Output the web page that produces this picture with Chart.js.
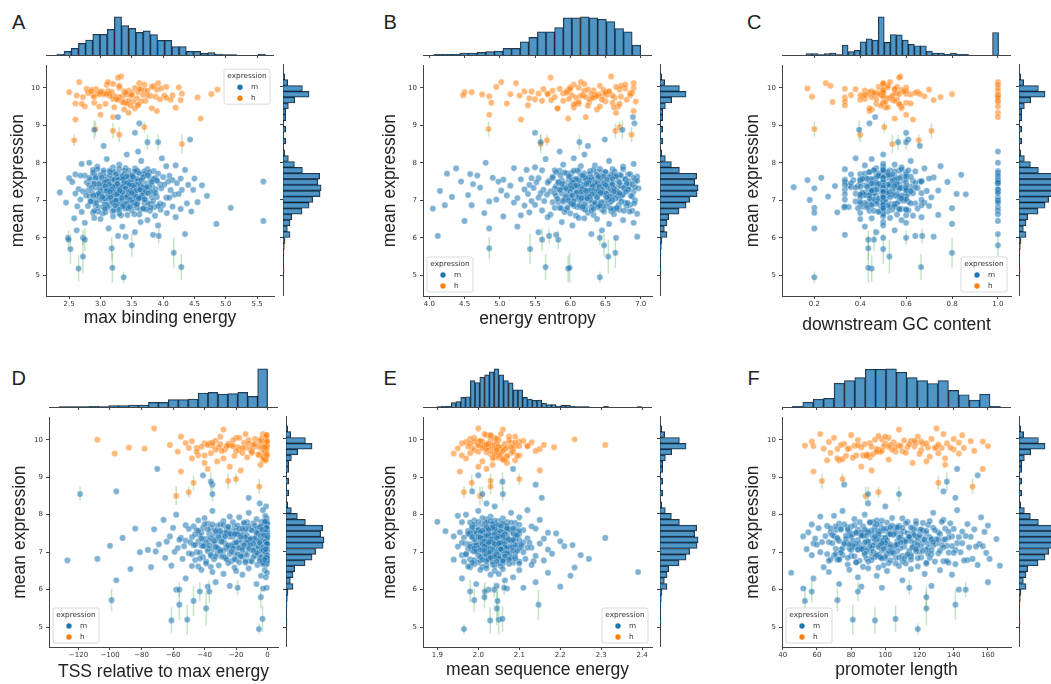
<!DOCTYPE html>
<html>
<head>
<meta charset="utf-8">
<title>mean expression vs promoter features</title>
<script src="https://cdn.jsdelivr.net/npm/chart.js@4.4.1/dist/chart.umd.min.js"></script>
<style>
  html, body { margin: 0; padding: 0; background: #fff; overflow: hidden; }
  body { width: 1051px; height: 684px; position: relative; }
  canvas { position: absolute; }
  .panel-letter { position: absolute; font-family: "Liberation Sans", Arial, sans-serif; font-size: 20px; line-height: 20px; color: #222; }
</style>
</head>
<body>
<script>
// Mean expression of the promoters (shared y values of every panel)
const hiExpr = [10.3, 10.27, 10.15, 10.12, 10.08, 10.05,
  9.88, 9.9, 9.92, 9.95, 9.97, 10.0, 10.02, 9.89, 9.93, 9.96, 9.99, 10.01, 9.9, 9.94, 9.98, 9.91, 9.95, 9.88,
  9.73, 9.75, 9.78, 9.8, 9.82, 9.84, 9.86, 9.74, 9.77, 9.79, 9.81, 9.83, 9.85, 9.76, 9.8, 9.82, 9.84, 9.78, 9.8, 9.86, 9.72, 9.75, 9.79, 9.83, 9.81,
  9.58, 9.62, 9.65, 9.68, 9.7, 9.6, 9.64, 9.67, 9.57, 9.63, 9.69,
  9.42, 9.45, 9.5, 9.53, 9.47,
  9.28, 9.33, 9.38,
  9.15, 9.18, 9.22];
const hiCoreExpr = [10.1, 9.65, 9.85, 9.55, 10.05, 9.75, 9.92, 9.6, 10.15, 9.8, 9.5, 9.95, 9.7, 10.02, 9.58,
  9.88, 9.45, 9.78, 10.08, 9.62, 9.9, 9.52, 9.83, 10.12, 9.68, 9.97, 9.48, 9.73, 9.87, 9.57];
const loExpr = [8.22,
  8.1, 8.05, 8.0, 8.12,
  7.95, 7.9, 7.85, 7.93, 7.88, 7.83, 7.97, 7.86, 7.91,
  7.8, 7.75, 7.7, 7.78, 7.72, 7.68, 7.81, 7.74, 7.77, 7.69, 7.79, 7.71, 7.76, 7.73, 7.8,
  7.65, 7.6, 7.55, 7.52, 7.63, 7.58, 7.53, 7.66, 7.61, 7.56, 7.54, 7.64, 7.59, 7.57, 7.62, 7.52, 7.55, 7.6, 7.65, 7.58, 7.53, 7.63, 7.56, 7.61, 7.54, 7.59, 7.66, 7.57,
  7.5, 7.45, 7.4, 7.38, 7.48, 7.43, 7.37, 7.46, 7.41, 7.49, 7.44, 7.39, 7.47, 7.42, 7.36, 7.5, 7.45, 7.4, 7.48, 7.43, 7.38, 7.46, 7.41, 7.44, 7.39, 7.47, 7.42,
  7.35, 7.3, 7.25, 7.22, 7.33, 7.28, 7.23, 7.34, 7.29, 7.24, 7.21, 7.32, 7.27, 7.26, 7.31, 7.35, 7.3, 7.25, 7.22, 7.33, 7.28, 7.23, 7.34, 7.29, 7.24, 7.21, 7.32, 7.27, 7.26,
  7.19, 7.15, 7.1, 7.06, 7.17, 7.12, 7.08, 7.18, 7.13, 7.09, 7.16, 7.11, 7.07, 7.14, 7.2, 7.19, 7.15, 7.1, 7.06, 7.17, 7.12, 7.08, 7.18, 7.13, 7.09, 7.16, 7.11, 7.07, 7.14,
  7.04, 7.0, 6.95, 6.9, 7.02, 6.97, 6.92, 7.03, 6.98, 6.93, 7.01, 6.96, 6.91, 6.99, 6.94, 7.04, 7.0, 6.95, 6.9, 7.02, 6.97, 6.92, 6.98,
  6.88, 6.85, 6.8, 6.75, 6.87, 6.82, 6.77, 6.86, 6.81, 6.76, 6.84, 6.79, 6.88, 6.83, 6.78, 6.85, 6.8, 6.75, 6.87, 6.82,
  6.73, 6.7, 6.65, 6.6, 6.72, 6.67, 6.62, 6.71, 6.66, 6.61, 6.69, 6.64, 6.59, 6.68, 6.63,
  6.57, 6.52, 6.47, 6.55, 6.5, 6.45, 6.53,
  6.42, 6.37, 6.3, 6.4, 6.33,
  6.25, 6.2, 6.15,
  6.1, 6.05, 6.0, 6.08, 6.03];
// the dense middle of the main cluster
const coreExpr = [7.84, 7.8, 7.77, 7.74, 7.71, 7.83, 7.79, 7.76, 7.72, 7.7, 7.81, 7.75, 7.69, 7.66, 7.63, 7.6, 7.57, 7.54, 7.51, 7.68,
  7.65, 7.62, 7.59, 7.56, 7.53, 7.5, 7.67, 7.64, 7.61, 7.58, 7.55, 7.52, 7.66, 7.63, 7.6, 7.57, 7.54, 7.51, 7.48, 7.45,
  7.42, 7.39, 7.36, 7.33, 7.3, 7.47, 7.44, 7.41, 7.38, 7.35, 7.32, 7.49, 7.46, 7.43, 7.4, 7.37, 7.34, 7.31, 7.48, 7.45,
  7.42, 7.39, 7.36, 7.33, 7.3, 7.44, 7.41, 7.38, 7.35, 7.32, 7.28, 7.25, 7.22, 7.19, 7.16, 7.13, 7.1, 7.29, 7.26, 7.23,
  7.2, 7.17, 7.14, 7.11, 7.27, 7.24, 7.21, 7.18, 7.15, 7.12, 7.28, 7.25, 7.22, 7.19, 7.16, 7.13, 7.1, 7.26, 7.23, 7.2,
  7.08, 7.05, 7.02, 6.99, 6.96, 6.93, 6.9, 7.07, 7.04, 7.01, 6.98, 6.95, 6.92, 7.09, 7.06, 7.03, 7.0, 6.97, 6.94, 6.91,
  7.08, 7.05, 6.88, 6.85, 6.82, 6.79, 6.76, 6.73, 6.7, 6.87, 6.84, 6.81, 6.78, 6.75, 6.72, 6.89, 6.86, 6.83, 6.8, 6.77];
const midExpr = [9.22, 9.05, 8.8, 8.62, 8.45, 8.3];
// promoters with replicate spread (error bars)
const noisyExpr = [4.95, 5.18, 5.2, 5.22, 5.5, 5.6, 5.7, 5.72, 5.95, 6.0, 5.8, 6.05, 8.5, 8.55, 8.55, 8.6, 8.85, 8.9, 8.88, 8.95, 8.75, 5.95];
const noisySd = [0.15, 0.35, 0.4, 0.35, 0.45, 0.4, 0.4, 0.3, 0.25, 0.2, 0.3, 0.2, 0.25, 0.2, 0.2, 0.15, 0.2, 0.2, 0.25, 0.15, 0.2, 0.3];
const noisyGroup = ['m', 'm', 'm', 'm', 'm', 'm', 'm', 'm', 'm', 'm', 'm', 'm', 'h', 'm', 'm', 'h', 'h', 'h', 'm', 'h', 'h', 'm'];

// Expression histogram (right margins), bins from low to high
const exprStart = 4.915;
const exprWidth = 0.155;
const exprCounts = [1, 3, 1, 2, 3, 4, 6, 21, 13, 21, 26, 57, 78, 89, 111, 114, 104, 110, 58, 34, 16, 5, 0, 8, 2, 8, 2, 8, 8, 16, 35, 78, 58, 14, 5];
const exprTicks = [5, 6, 7, 8, 9, 10];

// A: max binding energy
const maxBindHi = [3.33, 3.28, 2.66, 3.62, 3.1, 3.85,
  2.5, 3.02, 3.45, 3.9, 2.78, 3.3, 4.05, 3.18, 3.7, 2.93, 3.55, 4.25, 3.38, 2.86, 3.97, 3.12, 4.87, 3.6,
  3.25, 2.72, 3.8, 4.15, 3.05, 2.95, 3.5, 4.55, 3.35, 2.62, 3.68, 4.77, 3.15, 3.88, 2.88, 3.42, 4.3, 3.22, 3.75, 2.8, 3.58, 3.3, 4.02, 2.98, 3.48,
  2.6, 3.4, 3.72, 4.12, 3.2, 2.9, 3.65, 4.28, 3.08, 3.52, 3.95,
  3.38, 3.82, 2.75, 3.6, 4.2,
  3.0, 3.45, 3.9,
  2.6, 4.6, 3.2];
const maxBindHiCore = [3.2, 3.45, 3.05, 3.6, 3.3, 2.9, 3.75, 3.38, 3.12, 3.5, 2.98, 3.65, 3.25, 3.82, 3.42,
  3.0, 3.55, 3.15, 3.7, 3.35, 2.85, 3.48, 3.1, 3.92, 3.28, 3.62, 3.22, 4.05, 3.4, 2.7];
const maxBindLo = [3.42, 3.1, 3.65, 2.82, 3.98, 3.3, 2.95, 3.55, 4.2, 3.2, 3.75, 2.7, 3.4, 4.05, 3.15, 3.6, 2.9, 3.85, 3.28, 3.5,
  4.35, 3.05, 3.7, 2.6, 3.38, 3.92, 3.22, 2.88, 3.58, 4.1, 3.33, 2.98, 3.8, 3.45, 4.5, 3.12, 2.75, 3.68, 3.25, 3.9,
  3.48, 2.5, 3.18, 4.0, 3.62, 2.85, 3.35, 3.77, 4.28, 3.08, 2.92, 3.53, 3.27, 4.15, 3.87, 2.68, 3.4, 5.6, 3.72, 4.62,
  3.3, 2.78, 3.95, 3.15, 3.57, 4.4, 2.55, 3.23, 3.82, 3.43, 2.97, 3.66, 4.08, 3.36, 2.82, 3.5, 3.13, 3.78, 4.22, 3.28,
  2.9, 3.6, 3.38, 4.02, 3.05, 2.65, 3.47, 3.85, 3.2, 4.3, 3.55, 2.93, 3.32, 3.7, 2.35, 3.42, 4.12, 3.1, 3.63, 3.26,
  3.88, 2.8, 3.17, 3.52, 4.48, 3.0, 3.4, 3.75, 2.72, 3.3, 3.97, 3.22, 3.58, 2.87, 4.18, 3.45, 3.08, 3.68, 4.7, 3.34,
  2.6, 3.27, 3.82, 3.14, 3.5, 4.05, 2.95, 3.38, 3.73, 3.2, 2.83, 3.62, 4.25, 3.44, 3.02, 3.55, 2.77, 3.9, 3.29, 3.66,
  4.1, 3.12, 3.48, 2.9, 3.35, 3.8, 2.68, 3.24, 4.38, 3.57, 3.05, 3.7, 2.98, 3.41, 3.95, 3.18, 2.45, 3.6, 3.31, 4.55,
  3.07, 3.52, 2.85, 3.76, 3.22, 4.0, 3.36, 5.08, 3.64, 3.15, 3.86, 4.28, 2.92, 3.45, 3.27, 2.63, 3.7, 3.1, 4.15, 3.39,
  2.8, 3.58, 3.96, 3.25, 2.97, 3.5, 4.45, 3.03, 3.33, 3.79, 2.88, 3.62, 3.19, 4.06, 3.43, 2.7, 3.3, 3.87, 3.08, 3.54,
  3.2, 2.58, 3.75, 4.2, 3.0, 5.6, 2.9, 3.64, 4.85, 3.35, 2.75, 3.92, 3.13, 2.62, 3.55, 4.35, 3.28, 2.48, 3.84, 3.4];
const maxBindCore = [3.3, 3.05, 3.55, 3.2, 3.7, 2.95, 3.45, 3.15, 3.62, 3.38, 2.88, 3.78, 3.25, 3.5, 3.08, 3.4, 3.85, 3.18, 3.6, 3.0,
  3.35, 3.68, 2.92, 3.22, 3.48, 3.12, 3.75, 3.42, 3.02, 3.58, 3.28, 3.9, 3.15, 3.52, 2.82, 3.36, 3.65, 3.1, 3.44, 3.26,
  3.58, 3.04, 3.32, 3.72, 3.18, 3.46, 2.9, 3.64, 3.24, 3.54, 3.1, 3.82, 3.38, 2.98, 3.5, 3.2, 3.67, 3.3, 3.06, 3.42,
  3.14, 3.52, 3.36, 2.86, 3.62, 3.27, 3.46, 3.08, 3.74, 3.4, 3.0, 3.56, 3.22, 3.88, 3.33, 2.94, 3.6, 3.17, 3.48, 3.7,
  3.28, 3.02, 3.66, 3.43, 3.12, 3.8, 3.35, 2.97, 3.53, 3.21, 3.63, 3.09, 3.45, 3.76, 3.26, 2.89, 3.57, 3.31, 3.15, 3.5,
  3.4, 3.06, 3.72, 3.24, 3.55, 2.93, 3.37, 3.64, 3.13, 3.47, 3.84, 3.19, 3.59, 3.03, 3.34, 3.7, 3.25, 2.84, 3.51, 3.42,
  3.16, 3.61, 3.29, 3.92, 3.05, 3.44, 3.73, 3.21, 2.96, 3.54, 3.36, 3.11, 3.68, 3.3, 2.9, 3.58, 3.23, 3.47, 3.8, 3.07];
const maxBindMid = [3.28, 3.62, 3.55, 4.43, 3.05, 3.6];
const maxBindNoisy = [3.37, 2.65, 3.19, 4.29, 2.72, 4.17, 2.52, 3.18, 2.49, 2.72, 3.5, 3.93, 4.3, 3.75, 3.92, 2.58, 3.2, 2.92, 2.9, 3.7, 3.3, 2.75];
const maxBindStart = 2.303;
const maxBindWidth = 0.1148;
const maxBindCounts = [3, 11, 20, 35, 45, 62, 62, 77, 114, 88, 80, 68, 72, 61, 44, 44, 25, 25, 11, 11, 5, 7, 3, 1, 1, 0, 0, 0, 3];
const maxBindTicks = [2.5, 3.0, 3.5, 4.0, 4.5, 5.0, 5.5];

// B: energy entropy
const entropyHi = [6.58, 5.72, 5.02, 5.23, 6.05, 6.42,
  4.5, 5.45, 6.2, 6.7, 5.85, 6.12, 4.95, 6.55, 6.33, 5.62, 6.9, 6.0, 5.35, 6.47, 6.78, 5.95, 6.25, 4.6,
  6.63, 5.78, 6.15, 4.48, 6.4, 5.55, 6.85, 6.08, 4.85, 5.28, 6.52, 6.3, 5.9, 6.72, 6.18, 4.75, 5.68, 6.45, 6.02, 6.88, 5.42, 6.22, 6.6, 5.15, 6.35,
  5.1, 6.27, 5.6, 6.8, 5.98, 4.88, 6.5, 5.73, 6.12, 6.93, 5.5,
  6.38, 5.82, 6.68, 5.4, 6.05,
  4.85, 6.65, 6.9,
  5.3, 5.97, 6.22];
const entropyHiCore = [6.2, 5.9, 6.5, 6.05, 6.72, 6.35, 5.75, 6.6, 6.15, 6.85, 6.42, 5.98, 6.28, 6.65, 6.08,
  6.5, 5.82, 6.38, 6.78, 6.12, 6.55, 6.25, 5.68, 6.9, 6.45, 6.0, 6.62, 6.32, 5.95, 6.7];
const entropyLo = [6.2, 5.65, 6.55, 4.8, 6.05, 5.9, 6.75, 4.38, 6.35, 5.5, 6.6, 6.9, 5.2, 6.15, 5.78, 6.45, 4.58, 6.28, 5.95, 6.7,
  5.38, 6.5, 6.12, 6.82, 5.85, 4.25, 6.38, 6.02, 5.6, 6.65, 6.25, 5.05, 6.92, 5.75, 6.4, 6.1, 4.68, 6.58, 5.98, 6.3,
  6.48, 5.45, 6.78, 6.0, 5.7, 6.33, 4.9, 6.62, 6.18, 5.88, 6.95, 5.3, 6.42, 6.08, 5.55, 6.72, 6.22, 4.45, 5.92, 6.52,
  5.8, 6.35, 4.62, 6.68, 6.03, 5.42, 6.5, 6.15, 6.85, 5.68, 6.27, 5.97, 4.98, 6.6, 6.38, 5.52, 6.8, 6.07, 5.83, 6.45,
  6.3, 5.15, 6.58, 6.2, 5.9, 6.77, 4.15, 6.43, 6.0, 5.62, 6.9, 6.12, 5.35, 6.55, 6.25, 5.78, 6.65, 5.02, 6.4, 6.05,
  6.62, 5.95, 6.28, 5.48, 6.83, 6.1, 4.72, 6.48, 5.72, 6.35, 6.97, 5.85, 6.18, 5.58, 6.7, 6.02, 5.25, 6.53, 6.3, 5.93,
  6.45, 5.1, 6.22, 6.75, 5.8, 6.38, 4.55, 6.6, 6.08, 5.67, 6.88, 6.15, 5.4, 6.5, 6.25, 5.88, 6.68, 4.32, 6.4, 6.0,
  5.55, 6.63, 6.2, 6.92, 5.75, 6.32, 5.98, 4.85, 6.55, 6.12, 5.45, 6.78, 6.05, 5.9, 6.42, 6.27, 5.2, 6.7, 6.15, 5.83,
  6.35, 4.95, 6.58, 6.02, 5.63, 6.85, 6.22, 5.78, 6.45, 4.6, 6.1, 6.65, 5.35, 6.3, 5.95, 6.8, 6.18, 5.5, 6.52, 4.05,
  6.4, 5.85, 6.7, 4.22, 6.15, 5.6, 6.48, 6.0, 5.3, 6.88, 6.25, 5.72, 6.58, 4.78, 6.33, 5.92, 6.95, 6.08, 5.42, 6.62,
  5.05, 6.2, 6.75, 5.68, 6.38, 4.5, 6.12, 5.88, 6.55, 5.25, 6.9, 6.03, 4.85, 6.45, 5.55, 6.3, 4.12, 6.65, 5.8, 6.95];
const entropyCore = [6.42, 6.1, 6.63, 5.92, 6.28, 6.75, 6.05, 6.5, 6.2, 6.85, 6.33, 5.8, 6.58, 6.15, 6.47, 6.9, 6.25, 6.02, 6.68, 6.37,
  5.98, 6.55, 6.22, 6.78, 6.12, 6.44, 5.86, 6.65, 6.3, 6.08, 6.52, 6.95, 6.18, 6.4, 5.75, 6.6, 6.27, 6.83, 6.04, 6.48,
  6.35, 6.72, 6.14, 5.9, 6.57, 6.26, 6.8, 6.0, 6.45, 6.2, 6.62, 5.83, 6.38, 6.88, 6.1, 6.53, 6.3, 5.95, 6.7, 6.23,
  6.6, 6.07, 6.41, 6.76, 6.17, 5.88, 6.5, 6.32, 6.92, 6.02, 6.45, 6.24, 6.67, 5.78, 6.36, 6.13, 6.58, 6.82, 6.28, 6.0,
  6.46, 6.19, 6.74, 5.94, 6.34, 6.62, 6.09, 6.51, 6.25, 6.86, 5.85, 6.4, 6.15, 6.7, 6.31, 6.03, 6.56, 6.22, 6.79, 6.43,
  6.11, 6.64, 6.29, 5.97, 6.49, 6.81, 6.2, 6.38, 5.82, 6.6, 6.05, 6.44, 6.91, 6.27, 6.16, 6.55, 5.9, 6.73, 6.35, 6.01,
  6.52, 6.24, 6.69, 6.06, 6.39, 5.87, 6.62, 6.3, 6.84, 6.13, 6.47, 5.96, 6.58, 6.21, 6.76, 6.04, 6.42, 6.18, 6.66, 6.33];
const entropyMid = [6.89, 6.91, 5.5, 6.49, 6.25, 5.85];
const entropyNoisy = [6.42, 5.97, 5.99, 5.65, 6.54, 6.64, 5.43, 4.85, 5.83, 6.42, 6.48, 5.7, 5.58, 5.58, 6.13, 5.67, 6.64, 4.84, 6.74, 6.7, 6.87, 5.6];
const entropyStart = 4.066;
const entropyWidth = 0.1223;
const entropyCounts = [2, 2, 2, 6, 6, 8, 10, 12, 20, 20, 40, 53, 70, 70, 83, 112, 112, 115, 112, 108, 101, 80, 70, 30];
const entropyTicks = [4.0, 4.5, 5.0, 5.5, 6.0, 6.5, 7.0];

// C: downstream GC content
const gcHi = [0.575, 0.57, 1.0, 0.25, 0.5, 0.27,
  0.5, 1.0, 0.42, 0.55, 0.333, 0.6, 0.48, 0.65, 0.5, 0.38, 1.0, 0.52, 0.45, 0.58, 0.17, 0.5, 0.7, 0.44,
  0.53, 0.5, 1.0, 0.4, 0.62, 0.47, 0.56, 0.333, 0.68, 0.5, 0.43, 0.8, 0.55, 0.19, 1.0, 0.46, 0.6, 0.5, 0.36, 0.64, 0.52, 0.75, 0.41, 0.57, 0.49,
  0.5, 0.28, 1.0, 0.54, 0.42, 0.6, 0.333, 0.72, 0.47, 1.0, 0.56,
  0.45, 0.58, 1.0, 0.333, 0.51,
  0.6, 1.0, 0.44,
  0.63, 0.55, 1.0];
const gcHiCore = [0.5, 0.55, 0.48, 0.57, 0.52, 0.45, 0.6, 0.5, 0.53, 0.42, 0.58, 0.5, 0.47, 0.56, 0.62,
  0.5, 0.44, 0.54, 1.0, 0.51, 0.59, 0.49, 0.66, 0.5, 0.4, 0.55, 0.52, 1.0, 0.46, 0.57];
const gcLo = [0.5, 0.45, 0.62, 1.0, 0.38, 0.55, 0.5, 0.68, 0.42, 0.58, 0.333, 0.5, 0.47, 0.75, 0.53, 0.6, 0.4, 1.0, 0.52, 0.84,
  0.46, 0.5, 0.64, 0.36, 0.57, 0.5, 0.44, 1.0, 0.61, 0.49, 0.23, 0.54, 0.667, 0.5, 0.41, 0.59, 0.48, 0.72, 0.5, 0.37,
  0.55, 1.0, 0.43, 0.5, 0.63, 0.333, 0.52, 0.47, 0.7, 0.5, 0.58, 0.4, 0.54, 0.17, 0.6, 0.5, 0.45, 0.66, 1.0, 0.51,
  0.39, 0.5, 0.57, 0.62, 0.44, 0.5, 0.78, 0.53, 0.35, 0.6, 0.48, 0.5, 0.667, 1.0, 0.42, 0.56, 0.5, 0.29, 0.64, 0.46,
  0.5, 0.6, 0.4, 0.53, 0.11, 0.5, 0.69, 0.45, 0.58, 0.333, 1.0, 0.5, 0.51, 0.62, 0.41, 0.55, 0.5, 0.74, 0.47, 0.36,
  0.57, 0.5, 0.43, 0.65, 1.0, 0.52, 0.38, 0.5, 0.6, 0.45, 0.2, 0.54, 0.5, 0.667, 0.42, 0.59, 0.49, 0.82, 0.5, 0.4,
  0.61, 0.47, 0.5, 0.333, 0.56, 1.0, 0.44, 0.5, 0.63, 0.52, 0.26, 0.58, 0.5, 0.4, 0.71, 0.46, 0.55, 0.5, 0.86, 0.6,
  0.5, 0.42, 0.59, 1.0, 0.48, 0.53, 0.333, 0.5, 0.64, 0.45, 0.57, 0.5, 0.18, 0.61, 0.4, 0.5, 0.68, 0.51, 1.0, 0.44,
  0.55, 0.5, 0.38, 0.62, 0.47, 0.5, 0.7, 0.2, 0.54, 0.43, 1.0, 0.58, 0.5, 0.33, 0.6, 0.49, 0.8, 0.5, 0.41, 0.65,
  0.45, 0.5, 0.57, 0.667, 0.35, 1.0, 0.52, 0.5, 0.6, 0.44, 0.2, 0.56, 0.5, 0.4, 0.74, 0.48, 0.5, 0.63, 0.3, 1.0,
  0.5, 0.45, 0.58, 0.667, 0.4, 1.0, 0.53, 0.5, 0.8, 0.42, 0.6, 0.5, 0.2, 0.55, 0.47, 1.0, 0.64, 0.5, 0.333, 0.72];
const gcCore = [0.5, 0.46, 0.55, 0.5, 0.42, 0.58, 0.5, 0.52, 0.48, 0.6, 0.5, 0.44, 0.54, 1.0, 0.5, 0.47, 0.56, 0.4, 0.5, 0.53,
  0.49, 0.5, 0.57, 0.45, 0.5, 0.333, 0.52, 0.6, 0.5, 0.43, 0.55, 0.5, 0.48, 0.62, 0.5, 0.41, 1.0, 0.54, 0.5, 0.46,
  0.5, 0.53, 0.4, 0.58, 0.5, 0.47, 0.55, 0.5, 0.44, 0.6, 0.51, 0.5, 0.36, 0.56, 0.5, 0.49, 0.64, 0.5, 1.0, 0.45,
  0.52, 0.5, 0.43, 0.57, 0.5, 0.48, 0.333, 0.55, 0.5, 0.6, 0.46, 0.5, 0.53, 0.41, 0.5, 0.58, 0.5, 1.0, 0.45, 0.51,
  0.5, 0.56, 0.44, 0.5, 0.6, 0.49, 0.5, 0.38, 0.54, 0.5, 0.47, 0.62, 0.5, 0.52, 0.4, 0.5, 0.57, 0.45, 0.5, 1.0,
  0.53, 0.5, 0.46, 0.59, 0.5, 0.42, 0.55, 0.5, 0.48, 0.667, 0.5, 0.4, 0.56, 0.5, 0.44, 0.6, 0.5, 0.51, 1.0, 0.47,
  0.5, 0.58, 0.45, 0.5, 0.53, 0.39, 0.5, 0.61, 0.48, 0.5, 0.55, 0.43, 0.5, 0.6, 0.46, 0.5, 0.52, 0.333, 0.5, 0.57];
const gcMid = [0.465, 0.44, 0.6, 0.61, 0.66, 1.0];
const gcNoisy = [0.2, 0.45, 0.435, 0.665, 0.527, 0.8, 0.5, 0.435, 0.435, 0.6, 1.0, 0.67, 0.54, 0.565, 0.6, 0.655, 0.71, 0.2, 0.395, 0.505, 0.4, 0.46];
const gcStart = 0.1635;
const gcWidth = 0.02623;
const gcCounts = [4, 4, 1, 4, 6, 1, 30, 10, 14, 40, 49, 45, 115, 38, 62, 61, 45, 32, 28, 28, 12, 6, 6, 2, 6, 2, 2, 0, 0, 0, 0, 68];
const gcTicks = [0.2, 0.4, 0.6, 0.8, 1.0];

// D: TSS relative to max energy
const tssHi = [-72, -28, -3, -1, -55, -20,
  -1.5, -40, -15, -0.5, -33, -108, -8, -25, -2, -48, -12, -0.8, -37, -3.5, -22, -52, -1, -30,
  -18, -2.5, -45, -9, -0.3, -35, -62, -27, -4, -14, -42, -1.2, -23, -78, -31, -6, -0.6, -50, -19, -38, -2, -11, -88, -26, -3,
  -44, -0.5, -16, -57, -29, -5, -36, -1.8, -21, -97, -10,
  -32, -2.8, -48, -13, -1,
  -24, -4.5, -40,
  -55, -17, -38];
const tssHiCore = [-1, -10, -25, -2.5, -18, -0.5, -35, -6, -14, -1.5, -28, -0.3, -20, -4, -40,
  -8, -1.2, -16, -30, -0.8, -12, -3, -22, -0.6, -45, -5, -2, -33, -9, -0.4];
const tssLo = [-1, -35, -12, -58, -3, -24, -0.5, -44, -18, -7, -28, -1.5, -66, -40, -2, -15, -32, -0.8, -52, -21,
  -4, -30, -9, -47, -0.3, -19, -38, -2.5, -13, -60, -26, -1, -42, -6, -33, -17, -1.2, -72, -23, -3.5,
  -36, -0.6, -14, -50, -27, -2, -8, -41, -20, -1.8, -84, -31, -11, -0.4, -45, -25, -5, -37, -16, -2.2,
  -55, -29, -1, -10, -43, -22, -0.7, -34, -15, -3, -62, -39, -19, -1.4, -48, -26, -7, -92, -31, -2.8,
  -13, -0.2, -46, -24, -4.5, -37, -17, -1.1, -56, -30, -9, -41, -2.4, -21, -69, -33, -0.9, -14, -52, -28,
  -3.2, -39, -20, -0.5, -64, -27, -11, -44, -1.6, -34, -18, -5.5, -49, -23, -1, -38, -76, -15, -2, -31,
  -42, -8, -25, -0.8, -57, -35, -12, -1.3, -47, -22, -3.8, -30, -100, -16, -0.4, -40, -26, -6, -53, -19,
  -1.7, -33, -10, -45, -0.6, -28, -71, -14, -2.6, -38, -21, -1, -59, -32, -8, -43, -17, -0.3, -81, -24,
  -36, -4, -50, -13, -1.2, -29, -65, -20, -2.1, -41, -108, -11, -0.7, -34, -23, -5, -46, -16, -1.5, -127,
  -27, -0.9, -39, -9, -54, -18, -2.3, -31, -74, -14, -1, -44, -25, -6.5, -36, -0.5, -61, -21, -3, -48,
  -12, -1.8, -35, -87, -20, -0.4, -42, -28, -4.2, -52, -16, -1.1, -96, -33, -7, -24, -0.6, -58, -38, -2.7];
const tssCore = [-1, -22, -0.5, -35, -8, -2, -15, -0.3, -28, -4, -1.5, -40, -12, -0.8, -18, -3, -30, -0.2, -6, -25,
  -0.6, -14, -2.5, -33, -1.2, -20, -5, -0.4, -38, -10, -1.8, -26, -0.9, -16, -3.5, -44, -1.1, -7, -23, -0.7,
  -2.2, -31, -0.5, -12, -1.4, -19, -4.5, -0.2, -36, -9, -1, -24, -2.8, -0.6, -14, -42, -1.6, -5.5, -21, -0.3,
  -27, -1.3, -8, -0.8, -34, -2, -17, -0.4, -11, -3.2, -29, -1.7, -0.5, -46, -6, -1, -22, -2.6, -13, -0.9,
  -4, -37, -0.6, -18, -1.5, -9, -0.2, -25, -2.4, -32, -1.1, -5, -0.7, -15, -41, -3, -1.9, -20, -0.4, -11,
  -0.8, -28, -2.1, -7, -1.3, -36, -0.5, -16, -3.8, -23, -1, -48, -0.3, -12, -2.7, -30, -1.4, -6.5, -19, -0.6,
  -1.2, -9, -33, -0.4, -21, -2.3, -14, -0.9, -39, -4.2, -1.6, -26, -0.2, -10, -3, -17, -0.7, -43, -2, -5];
const tssMid = [-70, -41, -35, -96, -12, -5];
const tssNoisy = [-5.5, -61, -51, -3.2, -39, -56, -47, -99, -43, -56, -4.3, -19, -58, -35, -119, -50, -47, -25, -36, -20, -5.3, -37];
const tssStart = -132.3;
const tssWidth = 6.3;
const tssCounts = [1, 1, 1, 2, 1, 4, 4, 6, 6, 14, 14, 22, 22, 24, 42, 44, 39, 40, 44, 32, 114];
const tssTicks = [-120, -100, -80, -60, -40, -20, 0];

// E: mean sequence energy
const seqEnergyHi = [2.0, 2.06, 2.055, 2.02, 2.09, 1.99,
  2.04, 1.96, 2.08, 2.01, 2.11, 2.03, 1.98, 2.065, 2.13, 2.0, 2.05, 2.235, 2.025, 1.97, 2.075, 2.045, 2.1, 2.01,
  2.03, 2.15, 1.985, 2.06, 2.015, 2.09, 2.31, 2.04, 1.95, 2.07, 2.02, 2.12, 2.0, 2.055, 2.185, 1.975, 2.035, 2.085, 2.045, 2.16, 1.99, 2.065, 2.025, 2.1, 2.05,
  1.96, 2.03, 2.08, 2.0, 2.14, 2.05, 1.98, 2.02, 2.07, 1.94, 2.045,
  2.01, 2.09, 1.97, 2.04, 2.06,
  2.0, 2.035, 2.07,
  1.955, 2.15, 2.02];
const seqEnergyHiCore = [2.03, 2.05, 2.0, 2.07, 2.04, 2.02, 2.09, 2.055, 2.015, 2.08, 2.035, 1.99, 2.06, 2.045, 2.1,
  2.025, 2.065, 2.01, 2.075, 2.04, 1.98, 2.05, 2.12, 2.03, 2.085, 2.005, 2.06, 2.045, 2.02, 2.095];
const seqEnergyLo = [2.04, 2.0, 2.08, 1.97, 2.12, 2.03, 2.06, 1.99, 2.1, 2.02, 2.05, 1.95, 2.15, 2.01, 2.07, 2.035, 1.985, 2.09, 2.045, 2.0,
  1.9, 2.055, 2.02, 2.13, 1.98, 2.065, 2.04, 2.1, 1.96, 2.03, 2.075, 2.01, 2.17, 2.045, 1.99, 2.085, 2.025, 2.06, 1.92, 2.05,
  2.035, 2.11, 1.975, 2.05, 2.02, 2.095, 2.0, 2.07, 2.04, 1.955, 2.14, 2.03, 2.065, 1.99, 2.08, 2.015, 2.055, 2.19, 2.045, 2.005,
  2.06, 1.98, 2.03, 2.12, 2.045, 2.0, 2.085, 2.02, 1.965, 2.07, 2.04, 2.16, 2.01, 2.055, 1.985, 2.1, 2.035, 2.31, 2.05, 2.025,
  2.015, 2.09, 2.04, 1.94, 2.065, 2.03, 2.125, 2.0, 2.05, 2.08, 1.97, 2.035, 2.2, 2.02, 2.06, 1.995, 2.045, 2.11, 2.01, 2.075,
  2.055, 1.96, 2.03, 2.09, 2.04, 2.15, 2.005, 2.065, 2.02, 1.98, 2.1, 2.045, 2.035, 2.23, 1.99, 2.07, 2.05, 2.01, 2.13, 2.025,
  2.04, 2.08, 1.975, 2.06, 2.02, 2.17, 2.045, 2.0, 2.095, 1.95, 2.035, 2.07, 2.015, 2.12, 2.05, 1.99, 2.085, 2.03, 2.21, 2.06,
  2.025, 2.105, 1.985, 2.05, 2.04, 2.14, 2.0, 2.065, 1.96, 2.035, 2.09, 2.01, 2.055, 2.18, 2.02, 2.075, 1.97, 2.045, 2.11, 2.03,
  2.06, 1.99, 2.04, 2.25, 2.015, 2.08, 2.03, 1.94, 2.1, 2.05, 2.27, 2.02, 2.065, 1.98, 2.135, 2.04, 2.005, 2.09, 2.055, 2.16,
  2.03, 2.07, 1.965, 2.045, 2.115, 2.0, 2.06, 2.02, 1.98, 2.085, 2.035, 1.975, 2.05, 2.13, 2.01, 2.075, 2.04, 2.235, 1.99, 2.055,
  2.02, 2.1, 2.39, 2.06, 2.04, 2.17, 2.005, 2.05, 2.225, 1.96, 2.03, 2.085, 2.065, 2.14, 1.995, 2.045, 2.11, 2.025, 2.2, 2.07];
const seqEnergyCore = [2.04, 2.02, 2.06, 1.99, 2.05, 2.03, 2.08, 2.01, 2.045, 2.07, 2.0, 2.035, 2.055, 1.985, 2.09, 2.025, 2.05, 2.015, 2.065, 2.04,
  2.03, 2.075, 2.0, 2.045, 2.06, 1.995, 2.02, 2.085, 2.04, 2.01, 2.055, 1.98, 2.035, 2.07, 2.025, 2.1, 2.005, 2.05, 2.065, 2.03,
  2.015, 2.06, 2.04, 1.99, 2.08, 2.025, 2.05, 2.0, 2.07, 2.035, 2.045, 1.975, 2.09, 2.02, 2.055, 2.01, 2.065, 2.03, 2.04, 2.095,
  2.05, 2.005, 2.035, 2.075, 2.02, 2.06, 1.985, 2.045, 2.03, 2.085, 2.01, 2.055, 2.04, 1.995, 2.07, 2.025, 2.1, 2.015, 2.05, 2.065,
  2.02, 2.045, 2.08, 2.0, 2.035, 2.06, 2.01, 2.05, 1.98, 2.07, 2.03, 2.055, 2.04, 2.09, 2.015, 2.065, 1.99, 2.025, 2.05, 2.105,
  2.035, 2.06, 1.995, 2.045, 2.075, 2.02, 2.05, 2.005, 2.085, 2.03, 2.065, 1.97, 2.04, 2.055, 2.01, 2.095, 2.025, 2.07, 2.045, 2.0,
  2.055, 2.015, 2.04, 2.08, 2.025, 1.99, 2.06, 2.035, 2.1, 2.005, 2.05, 2.075, 2.02, 2.045, 1.985, 2.065, 2.03, 2.09, 2.01, 2.06];
const seqEnergyMid = [2.085, 2.0, 2.14, 1.985, 2.155, 2.02];
const seqEnergyNoisy = [1.965, 2.029, 2.05, 2.059, 2.045, 2.147, 2.047, 1.99, 2.016, 2.039, 2.015, 2.063, 2.004, 2.01, 2.06, 1.965, 1.984, 2.03, 2.059, 2.1, 2.03, 1.98];
const seqEnergyStart = 1.899;
const seqEnergyWidth = 0.01163;
const seqEnergyCounts = [1, 2, 2, 13, 16, 29, 31, 80, 74, 90, 97, 106, 115, 97, 80, 73, 52, 52, 29, 24, 20, 21, 12, 7, 7, 3, 5, 5, 3, 1, 1, 1, 0, 0, 0, 2, 0, 0, 0, 0, 0, 0, 1];
const seqEnergyTicks = [1.9, 2.0, 2.1, 2.2, 2.3, 2.4];

// F: promoter length
const lengthHi = [130, 108, 62, 80, 119, 70,
  88, 100, 143, 57, 115, 94, 127, 76, 105, 150, 84, 98, 136, 67, 111, 91, 157, 122,
  96, 72, 133, 86, 117, 53, 103, 140, 79, 125, 92, 160, 108, 64, 130, 99, 82, 146, 113, 74, 121, 95, 138, 58, 102,
  83, 120, 68, 106, 152, 89, 131, 97, 77, 143, 110,
  124, 73, 135, 91, 102,
  86, 135, 116,
  58, 92, 157];
const lengthHiCore = [96, 112, 84, 126, 102, 78, 118, 90, 134, 106, 72, 121, 98, 140, 87,
  114, 66, 129, 100, 93, 124, 81, 109, 145, 95, 117, 75, 104, 131, 89];
const lengthLo = [100, 75, 128, 88, 142, 62, 110, 95, 156, 82, 118, 70, 134, 104, 91, 148, 66, 122, 97, 80,
  113, 57, 138, 87, 101, 160, 73, 125, 93, 108, 84, 145, 68, 116, 99, 131, 78, 152, 105, 90,
  61, 120, 96, 140, 83, 111, 74, 128, 102, 55, 135, 89, 117, 158, 71, 106, 94, 124, 79, 143,
  98, 132, 65, 114, 86, 150, 103, 77, 121, 92, 139, 59, 109, 96, 126, 81, 147, 100, 69, 118,
  87, 137, 104, 52, 123, 95, 78, 155, 112, 90, 130, 72, 107, 142, 85, 99, 63, 119, 94, 165,
  115, 76, 101, 134, 89, 58, 127, 97, 145, 81, 110, 67, 122, 93, 153, 104, 74, 136, 88, 118,
  93, 149, 71, 106, 125, 84, 100, 60, 133, 111, 79, 141, 96, 116, 54, 128, 103, 86, 157, 109,
  124, 82, 98, 144, 66, 113, 91, 131, 75, 107, 159, 88, 120, 101, 70, 137, 95, 114, 62, 127,
  80, 118, 103, 57, 140, 92, 126, 73, 110, 97, 151, 85, 121, 68, 134, 100, 148, 115, 89, 146,
  106, 72, 129, 94, 161, 83, 112, 99, 64, 137, 78, 119, 102, 154, 87, 124, 167, 96, 141, 108,
  90, 132, 67, 115, 101, 45, 79, 123, 95, 58, 139, 84, 110, 160, 73, 127, 98, 143, 86, 52];
const lengthCore = [98, 85, 112, 76, 104, 126, 91, 118, 82, 108, 133, 95, 71, 115, 101, 88, 122, 79, 106, 94,
  110, 74, 129, 97, 86, 116, 103, 68, 121, 92, 137, 83, 107, 99, 78, 124, 90, 113, 102, 87,
  80, 119, 95, 131, 73, 105, 89, 114, 100, 127, 84, 96, 117, 70, 109, 93, 135, 81, 103, 120,
  94, 108, 77, 123, 99, 86, 114, 72, 130, 101, 90, 117, 83, 106, 139, 96, 75, 111, 88, 125,
  103, 81, 116, 92, 128, 69, 107, 97, 121, 85, 112, 100, 76, 119, 91, 134, 87, 109, 98, 79,
  118, 89, 102, 74, 125, 96, 110, 84, 132, 93, 105, 71, 115, 99, 80, 122, 104, 88, 113, 95,
  86, 127, 100, 78, 111, 92, 136, 83, 106, 97, 119, 73, 103, 90, 124, 82, 108, 98, 115, 67];
const lengthMid = [142, 154, 76, 134, 141, 90];
const lengthNoisy = [119, 94, 81, 106, 124, 141, 53, 72, 84, 147, 124, 114, 88.5, 90, 108, 96, 131, 63, 136, 75, 151, 57];
const lengthStart = 45.7;
const lengthWidth = 6.08;
const lengthCounts = [2, 15, 24, 26, 72, 80, 89, 114, 114, 115, 105, 89, 80, 71, 80, 50, 37, 21, 39, 2];
const lengthTicks = [40, 60, 80, 100, 120, 140, 160];

// Colours and fonts
const blue = 'rgba(31, 119, 180, 0.57)';
const orange = 'rgba(255, 127, 14, 0.55)';
const histFill = 'rgba(31, 119, 180, 0.78)';
const histEdge = 'rgba(15, 20, 30, 0.9)';
const axisColor = '#444';
const tickFont = { family: 'DejaVu Sans', size: 7 };
const titleFont = { family: 'Liberation Sans', size: 17.5 };

// Panel layout (pixel boxes of the scatter areas)
const panels = [
  { letter: 'A', letterPos: [12, 12], label: 'max binding energy',
    hi: maxBindHi, hiCore: maxBindHiCore, lo: maxBindLo, core: maxBindCore, mid: maxBindMid, noisy: maxBindNoisy,
    histStart: maxBindStart, histWidth: maxBindWidth, hist: maxBindCounts, ticks: maxBindTicks, dec: 1, xMin: 2.13, xMax: 5.77,
    left: 46, top: 64, width: 228, height: 232, yMin: 4.45, histBase: 55, sideX: 283, yW: 38, xH: 33, legend: 'tr' },
  { letter: 'B', letterPos: [383.5, 12], label: 'energy entropy',
    hi: entropyHi, hiCore: entropyHiCore, lo: entropyLo, core: entropyCore, mid: entropyMid, noisy: entropyNoisy,
    histStart: entropyStart, histWidth: entropyWidth, hist: entropyCounts, ticks: entropyTicks, dec: 1, xMin: 3.91, xMax: 7.16,
    left: 423, top: 64, width: 229, height: 232, yMin: 4.45, histBase: 55, sideX: 660, yW: 43, xH: 34, legend: 'bl' },
  { letter: 'C', letterPos: [747, 12], label: 'downstream GC content',
    hi: gcHi, hiCore: gcHiCore, lo: gcLo, core: gcCore, mid: gcMid, noisy: gcNoisy,
    histStart: gcStart, histWidth: gcWidth, hist: gcCounts, ticks: gcTicks, dec: 1, xMin: 0.059, xMax: 1.057,
    left: 782, top: 64, width: 229, height: 232, yMin: 4.45, histBase: 55, sideX: 1019, yW: 39, xH: 40, legend: 'br' },
  { letter: 'D', letterPos: [11.5, 368], label: 'TSS relative to max energy',
    hi: tssHi, hiCore: tssHiCore, lo: tssLo, core: tssCore, mid: tssMid, noisy: tssNoisy,
    histStart: tssStart, histWidth: tssWidth, hist: tssCounts, ticks: tssTicks, dec: 0, xMin: -138.7, xMax: 6.6,
    left: 49, top: 416, width: 229, height: 231, yMin: 4.47, histBase: 407, sideX: 286, yW: 39, xH: 36, legend: 'bl' },
  { letter: 'E', letterPos: [383.5, 368], label: 'mean sequence energy',
    hi: seqEnergyHi, hiCore: seqEnergyHiCore, lo: seqEnergyLo, core: seqEnergyCore, mid: seqEnergyMid, noisy: seqEnergyNoisy,
    histStart: seqEnergyStart, histWidth: seqEnergyWidth, hist: seqEnergyCounts, ticks: seqEnergyTicks, dec: 1, xMin: 1.865, xMax: 2.424,
    left: 423, top: 416, width: 229, height: 231, yMin: 4.47, histBase: 407, sideX: 660, yW: 43, xH: 34, legend: 'br' },
  { letter: 'F', letterPos: [747.5, 368], label: 'promoter length',
    hi: lengthHi, hiCore: lengthHiCore, lo: lengthLo, core: lengthCore, mid: lengthMid, noisy: lengthNoisy,
    histStart: lengthStart, histWidth: lengthWidth, hist: lengthCounts, ticks: lengthTicks, dec: 0, xMin: 39.6, xMax: 173.5,
    left: 782, top: 416, width: 229, height: 231, yMin: 4.47, histBase: 407, sideX: 1019, yW: 39, xH: 34, legend: 'bl' }
];
const yMax = 10.6;

Chart.defaults.font.family = 'DejaVu Sans';
Chart.defaults.color = '#333';

function fmt(v, dec) {
  return v.toFixed(dec).replace('-', '\u2212');
}

// pair x values of a panel with the shared expression values
function pairUp(xs, ys) {
  return xs.map((x, i) => ({ x, y: ys[i] }));
}

// green vertical error bars under the points that carry an sd
const errorBars = {
  id: 'errorBars',
  beforeDatasetsDraw(chart) {
    const { ctx, scales: { x, y } } = chart;
    ctx.save();
    ctx.strokeStyle = 'rgba(44, 160, 44, 0.28)';
    ctx.lineWidth = 1.5;
    chart.data.datasets.forEach(ds => {
      ds.data.forEach(pt => {
        if (!pt.sd) return;
        const px = x.getPixelForValue(pt.x);
        ctx.beginPath();
        ctx.moveTo(px, y.getPixelForValue(pt.y - pt.sd));
        ctx.lineTo(px, y.getPixelForValue(pt.y + pt.sd));
        ctx.stroke();
      });
    });
    ctx.restore();
  }
};

// small seaborn style legend box inside the plot area
const exprLegend = {
  id: 'exprLegend',
  afterDraw(chart, args, opts) {
    const { ctx, chartArea: a } = chart;
    const w = 46, h = 35;
    const x0 = opts.corner.includes('r') ? a.right - 4 - w : a.left + 4;
    const y0 = opts.corner.includes('t') ? a.top + 4 : a.bottom - 4 - h;
    ctx.save();
    ctx.beginPath();
    ctx.roundRect(x0, y0, w, h, 2);
    ctx.fillStyle = 'rgba(255, 255, 255, 0.85)';
    ctx.fill();
    ctx.strokeStyle = '#d0d0d0';
    ctx.lineWidth = 0.8;
    ctx.stroke();
    ctx.font = '7.3px "DejaVu Sans"';
    ctx.fillStyle = '#333';
    ctx.textBaseline = 'middle';
    ctx.textAlign = 'center';
    ctx.fillText('expression', x0 + w / 2, y0 + 7);
    ctx.textAlign = 'left';
    chart.data.datasets.forEach((ds, i) => {
      const yy = y0 + 18 + i * 11;
      ctx.beginPath();
      ctx.arc(x0 + 16, yy, 2.7, 0, Math.PI * 2);
      ctx.fillStyle = ds.legendColor;
      ctx.fill();
      ctx.fillStyle = '#333';
      ctx.fillText(ds.label, x0 + 27, yy);
    });
    ctx.restore();
  }
};

function addCanvas(left, top, width, height) {
  const c = document.createElement('canvas');
  c.width = width;
  c.height = height;
  c.style.left = left + 'px';
  c.style.top = top + 'px';
  c.style.width = width + 'px';
  c.style.height = height + 'px';
  document.body.appendChild(c);
  return c.getContext('2d');
}

function fixedTicks(values) {
  return scale => { scale.ticks = values.map(v => ({ value: v })); };
}

function drawScatter(p) {
  const ctx = addCanvas(p.left - p.yW, p.top - 6, p.width + p.yW + 6, p.height + 6 + p.xH);
  const mPoints = pairUp(p.lo, loExpr).concat(pairUp(p.core, coreExpr), pairUp(p.mid, midExpr));
  const hPoints = pairUp(p.hi, hiExpr).concat(pairUp(p.hiCore, hiCoreExpr));
  p.noisy.forEach((x, i) => {
    const pt = { x, y: noisyExpr[i], sd: noisySd[i] };
    (noisyGroup[i] === 'h' ? hPoints : mPoints).push(pt);
  });
  const pointStyle = { pointRadius: 3.1, pointBorderColor: 'rgba(255, 255, 255, 0.55)', pointBorderWidth: 0.5, showLine: false };

  new Chart(ctx, {
    type: 'scatter',
    data: {
      datasets: [
        Object.assign({ label: 'm', data: mPoints, pointBackgroundColor: blue, legendColor: '#1f77b4' }, pointStyle),
        Object.assign({ label: 'h', data: hPoints, pointBackgroundColor: orange, legendColor: '#ff7f0e' }, pointStyle)
      ]
    },
    plugins: [errorBars, exprLegend],
    options: {
      responsive: false,
      animation: false,
      events: [],
      layout: { padding: { top: 6, right: 6, left: 0, bottom: 0 } },
      plugins: { legend: { display: false }, tooltip: { enabled: false }, exprLegend: { corner: p.legend } },
      scales: {
        x: {
          type: 'linear', min: p.xMin, max: p.xMax,
          afterBuildTicks: fixedTicks(p.ticks),
          afterFit: s => { s.height = p.xH; },
          ticks: { font: tickFont, color: '#333', padding: 1, maxRotation: 0, autoSkip: false, callback: v => fmt(v, p.dec) },
          grid: { drawOnChartArea: false, drawTicks: true, tickLength: 3, color: axisColor },
          border: { display: true, color: axisColor, width: 1 },
          title: { display: true, text: p.label, font: titleFont, color: '#222', padding: 0 }
        },
        y: {
          type: 'linear', min: p.yMin, max: yMax,
          afterBuildTicks: fixedTicks(exprTicks),
          afterFit: s => { s.width = p.yW; },
          ticks: { font: tickFont, color: '#333', padding: 3, autoSkip: false, callback: v => fmt(v, 0) },
          grid: { drawOnChartArea: false, drawTicks: true, tickLength: 3, color: axisColor },
          border: { display: true, color: axisColor, width: 1 },
          title: { display: true, text: 'mean expression', font: titleFont, color: '#222', padding: 0 }
        }
      }
    }
  });
}

function drawTopHist(p) {
  const ctx = addCanvas(p.left, p.histBase - 40, p.width, 44);
  const bars = p.hist.map((c, i) => ({ x: p.histStart + (i + 0.5) * p.histWidth, y: c }));
  new Chart(ctx, {
    type: 'bar',
    data: { datasets: [{ data: bars, backgroundColor: histFill, borderColor: histEdge, borderWidth: 0.8, barPercentage: 1, categoryPercentage: 1 }] },
    options: {
      responsive: false,
      animation: false,
      events: [],
      layout: { padding: 0 },
      plugins: { legend: { display: false }, tooltip: { enabled: false } },
      scales: {
        x: {
          type: 'linear', min: p.xMin, max: p.xMax, offset: false,
          afterBuildTicks: fixedTicks(p.ticks),
          afterFit: s => { s.height = 4; },
          ticks: { display: false },
          grid: { offset: false, drawOnChartArea: false, drawTicks: true, tickLength: 3, color: axisColor },
          border: { display: true, color: axisColor, width: 1 }
        },
        y: { display: false, min: 0, max: Math.max(...p.hist) * 1.05 }
      }
    }
  });
}

function drawSideHist(p) {
  const ctx = addCanvas(p.sideX - 4, p.top, 44, p.height);
  const bars = exprCounts.map((c, i) => ({ x: c, y: exprStart + (i + 0.5) * exprWidth }));
  new Chart(ctx, {
    type: 'bar',
    data: { datasets: [{ data: bars, backgroundColor: histFill, borderColor: histEdge, borderWidth: 0.8, barPercentage: 1, categoryPercentage: 1 }] },
    options: {
      indexAxis: 'y',
      responsive: false,
      animation: false,
      events: [],
      layout: { padding: 0 },
      plugins: { legend: { display: false }, tooltip: { enabled: false } },
      scales: {
        y: {
          type: 'linear', position: 'left', min: p.yMin, max: yMax, offset: false,
          afterBuildTicks: fixedTicks(exprTicks),
          afterFit: s => { s.width = 4; },
          ticks: { display: false },
          grid: { offset: false, drawOnChartArea: false, drawTicks: true, tickLength: 3, color: axisColor },
          border: { display: true, color: axisColor, width: 1 }
        },
        x: { display: false, min: 0, max: Math.max(...exprCounts) * 1.05 }
      }
    }
  });
}

panels.forEach(p => {
  const letter = document.createElement('div');
  letter.className = 'panel-letter';
  letter.textContent = p.letter;
  letter.style.left = p.letterPos[0] + 'px';
  letter.style.top = p.letterPos[1] + 'px';
  document.body.appendChild(letter);

  drawTopHist(p);
  drawSideHist(p);
  drawScatter(p);
});
</script>
</body>
</html>
